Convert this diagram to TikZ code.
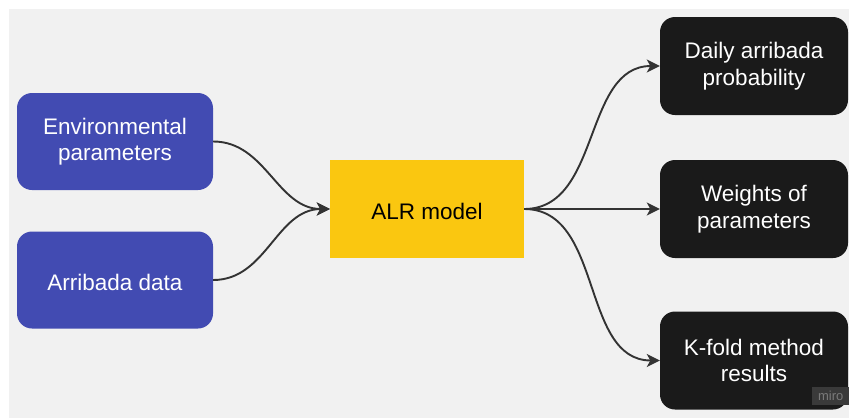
\documentclass[tikz,border=0pt]{standalone}
\usepackage{fontspec}
\setmainfont{Liberation Sans}
\usetikzlibrary{arrows.meta}
\definecolor{bgGray}{HTML}{F1F1F1}
\definecolor{inBlue}{HTML}{424BB2}
\definecolor{alrYellow}{HTML}{FAC710}
\definecolor{outBlack}{HTML}{1A1A1A}
\definecolor{wire}{HTML}{333333}
\definecolor{markBg}{HTML}{3A3A3A}
\definecolor{markText}{HTML}{7A7A7A}
\tikzset{
  % a tall strut on the first line sets the text a little below the box centre
  box/.style={minimum width=#1, inner sep=0pt, align=center,
    font=\fontsize{22.5}{26.5}\selectfont,
    execute at begin node={\rule{0pt}{22pt}}},
  inbox/.style={box=196pt, minimum height=97pt, fill=inBlue, text=white, rounded corners=15pt},
  modelbox/.style={box=194pt, minimum height=98pt, fill=alrYellow, text=black},
  outbox/.style={box=188pt, minimum height=98pt, fill=outBlack, text=white, rounded corners=15pt},
  link/.style={draw=wire, line width=1.9pt, -{Stealth[length=13pt,width=13pt,inset=3.5pt]}},
}
\begin{document}
\begin{tikzpicture}[x=1pt,y=-1pt]
  % canvas
  \fill[white] (0,0) rectangle (849,418);
  \fill[bgGray] (9,9) rectangle (849,418);
  \useasboundingbox (0,0) rectangle (849,418);

  % inputs
  \node[inbox] (env) at (115,141.5) {Environmental\\parameters};
  \node[inbox] (arr) at (115,280) {Arribada data};

  % model
  \node[modelbox] (alr) at (427,209) {ALR model};

  % outputs
  \node[outbox] (daily) at (754,66) {Daily arribada\\probability};
  \node[outbox] (weights) at (754,209) {Weights of\\parameters};
  \node[outbox] (kfold) at (754,360.5) {K-fold method\\results};

  % connectors
  \draw[link] (env.east) to[out=0,in=180] (alr.west);
  \draw[link] (arr.east) to[out=0,in=180] (alr.west);
  \draw[link] (alr.east) to[out=0,in=180] (daily.west);
  \draw[link] (alr.east) -- (weights.west);
  \draw[link] (alr.east) to[out=0,in=180] (kfold.west);

  % watermark
  \node[fill=markBg, text=markText, minimum width=37pt, minimum height=18pt,
        inner sep=0pt, font=\fontsize{13}{13}\selectfont, anchor=north west] (wm) at (812,387) {miro};
\end{tikzpicture}
\end{document}
